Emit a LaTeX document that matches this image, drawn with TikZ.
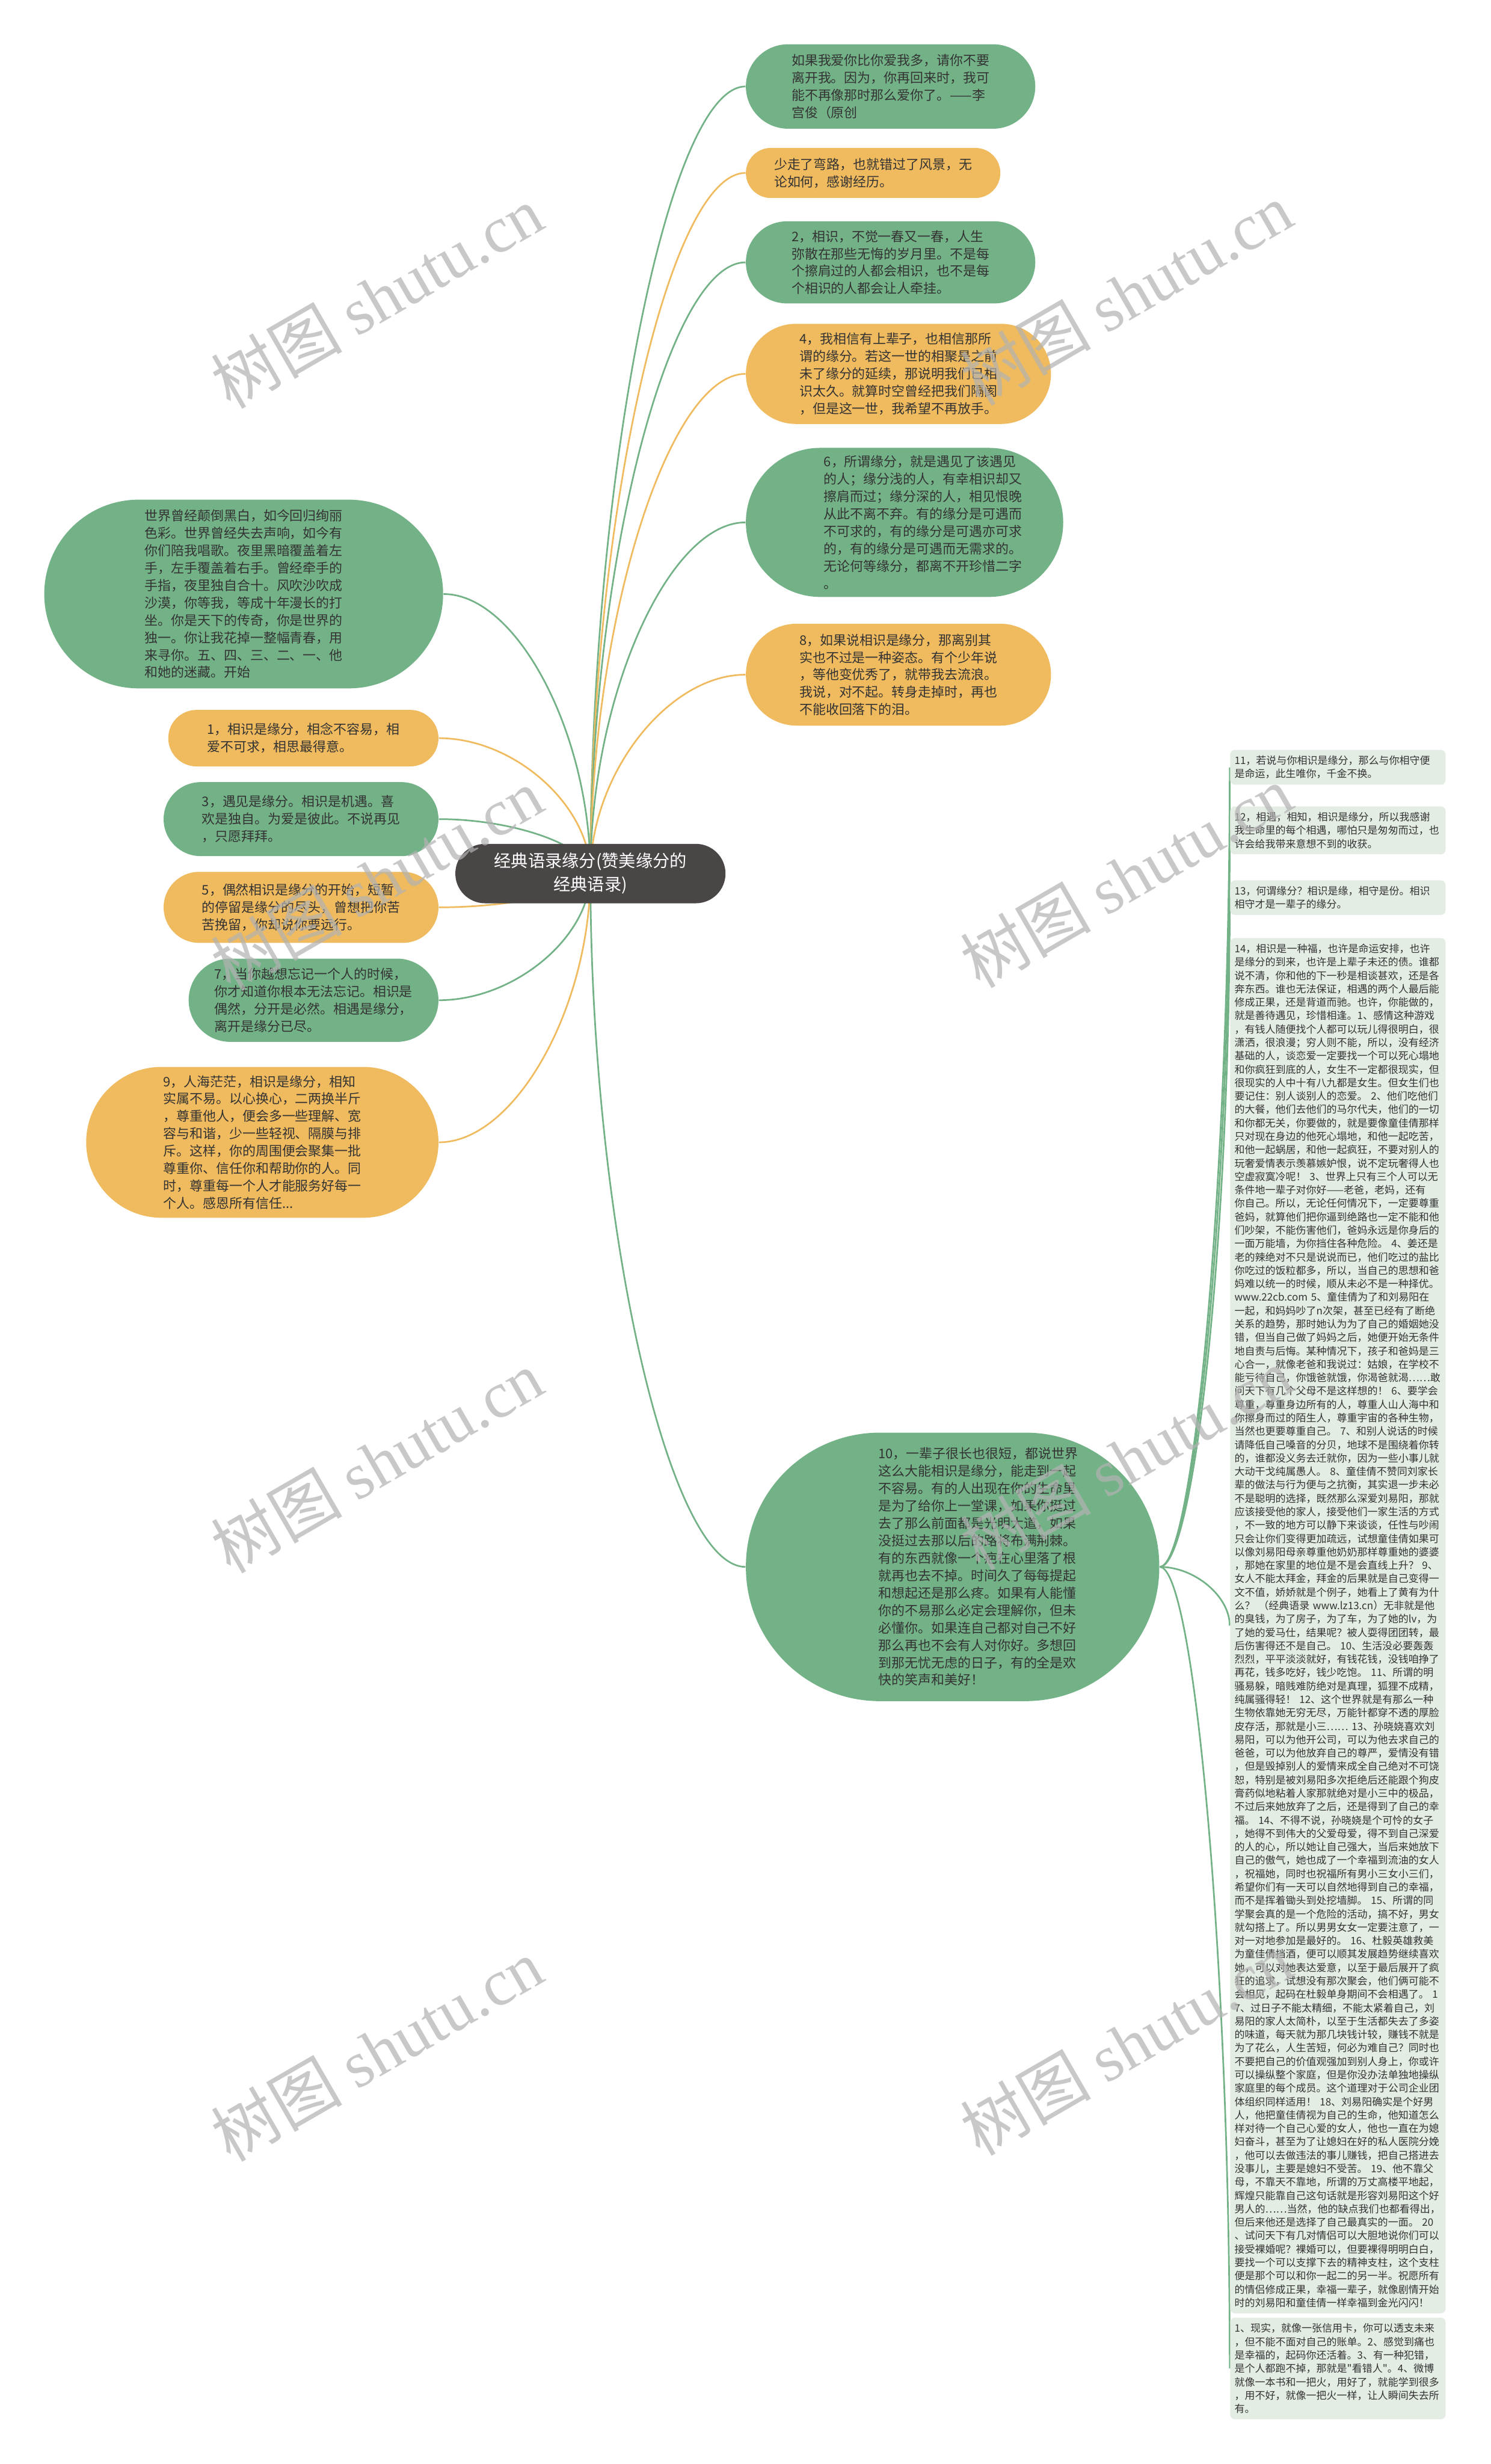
\documentclass[tikz,border=0pt]{standalone}
\usepackage{fontspec}
\newfontfamily\cjk{Noto Sans CJK SC}
\newfontfamily\wmserif{Liberation Serif}
\usetikzlibrary{calc,backgrounds}
\definecolor{mapgreen}{HTML}{73B287}
\definecolor{maporange}{HTML}{F0BA5E}
\definecolor{rootgray}{HTML}{4A4646}
\definecolor{leafbg}{HTML}{E4EDE4}
\definecolor{ink}{HTML}{333333}

\begin{document}
\begin{tikzpicture}[
    pill/.style={inner sep=0pt, align=left, text=ink, font=\cjk\fontsize{6.45pt}{8.5pt}\selectfont},
    gpill/.style={pill, fill=mapgreen},
    opill/.style={pill, fill=maporange},
    rootbox/.style={fill=rootgray, rounded corners=0.51cm, minimum width=4.64cm, minimum height=1.02cm, align=center, text=white, font=\cjk\fontsize{8.3pt}{11.5pt}\selectfont},
    leaf/.style={fill=leafbg, rounded corners=0.08cm, anchor=north west, text width=3.55cm, inner xsep=0.075cm, inner ysep=0.1cm, align=left, text=ink, font=\cjk\fontsize{5pt}{6.55pt}\selectfont},
    glink/.style={draw=mapgreen, line width=0.8pt},
    olink/.style={draw=maporange, line width=0.8pt},
    vlink/.style={to path={.. controls ($(\tikztostart)!0.5!(\tikztostart|-\tikztotarget)$) and ($(\tikztostart|-\tikztotarget)!0.5!(\tikztotarget)$) .. (\tikztotarget)}},
    hlink/.style={to path={.. controls ($(\tikztostart)!0.5!(\tikztostart-|\tikztotarget)$) and ($(\tikztostart-|\tikztotarget)!0.5!(\tikztotarget)$) .. (\tikztotarget)}},
    wmark/.style={rotate=30, text=black!30, opacity=0.7, font=\cjk\fontsize{32pt}{32pt}\selectfont}
]
\useasboundingbox (0,0) rectangle (25.6,-42.31);

% centre
\node[rootbox] (root) at (10.14,-15.00) {经典语录缘分(赞美缘分的\\经典语录)};

% right branches
\node[gpill, minimum width=4.97cm, minimum height=1.45cm, rounded corners=0.725cm] (r1) at (15.295,-1.485)
  {如果我爱你比你爱我多，请你不要\\离开我。因为，你再回来时，我可\\能不再像那时那么爱你了。——李\\宫俊（原创};
\node[opill, minimum width=4.37cm, minimum height=0.86cm, rounded corners=0.43cm] (r2) at (14.995,-2.97)
  {少走了弯路，也就错过了风景，无\\论如何，感谢经历。};
\node[gpill, minimum width=4.97cm, minimum height=1.41cm, rounded corners=0.705cm] (r3) at (15.295,-4.505)
  {2，相识，不觉一春又一春，人生\\弥散在那些无悔的岁月里。不是每\\个擦肩过的人都会相识，也不是每\\个相识的人都会让人牵挂。};
\node[opill, minimum width=5.24cm, minimum height=1.72cm, rounded corners=0.86cm] (r4) at (15.43,-6.42)
  {4，我相信有上辈子，也相信那所\\谓的缘分。若这一世的相聚是之前\\未了缘分的延续，那说明我们已相\\识太久。就算时空曾经把我们隔阂\\，但是这一世，我希望不再放手。};
\node[gpill, minimum width=5.45cm, minimum height=2.56cm, rounded corners=1.28cm] (r5) at (15.535,-8.97) {};
\node[pill] (r5txt) at (15.85,-8.97)
  {6，所谓缘分，就是遇见了该遇见\\的人；缘分浅的人，有幸相识却又\\擦肩而过；缘分深的人，相见恨晚\\从此不离不弃。有的缘分是可遇而\\不可求的，有的缘分是可遇亦可求\\的，有的缘分是可遇而无需求的。\\无论何等缘分，都离不开珍惜二字\\。};
\node[opill, minimum width=5.24cm, minimum height=1.75cm, rounded corners=0.875cm] (r6) at (15.43,-11.585)
  {8，如果说相识是缘分，那离别其\\实也不过是一种姿态。有个少年说\\，等他变优秀了，就带我去流浪。\\我说，对不起。转身走掉时，再也\\不能收回落下的泪。};
\node[gpill, minimum width=7.10cm, minimum height=4.61cm, rounded corners=2.3cm] (r7) at (16.36,-26.905) {};
\node[pill] (r7txt) at (16.80,-26.905)
  {10，一辈子很长也很短，都说世界\\这么大能相识是缘分，能走到一起\\不容易。有的人出现在你的生命里\\是为了给你上一堂课，如果你挺过\\去了那么前面都是光明大道，如果\\没挺过去那以后的路将布满荆棘。\\有的东西就像一个疤在心里落了根\\就再也去不掉。时间久了每每提起\\和想起还是那么疼。如果有人能懂\\你的不易那么必定会理解你，但未\\必懂你。如果连自己都对自己不好\\那么再也不会有人对你好。多想回\\到那无忧无虑的日子，有的全是欢\\快的笑声和美好！};

% left branches
\node[gpill, minimum width=6.85cm, minimum height=3.24cm, rounded corners=1.62cm] (l0) at (4.185,-10.20)
  {世界曾经颠倒黑白，如今回归绚丽\\色彩。世界曾经失去声响，如今有\\你们陪我唱歌。夜里黑暗覆盖着左\\手，左手覆盖着右手。曾经牵手的\\手指，夜里独自合十。风吹沙吹成\\沙漠，你等我，等成十年漫长的打\\坐。你是天下的传奇，你是世界的\\独一。你让我花掉一整幅青春，用\\来寻你。五、四、三、二、一、他\\和她的迷藏。开始};
\node[opill, minimum width=4.64cm, minimum height=0.97cm, rounded corners=0.485cm] (l1) at (5.21,-12.675)
  {1，相识是缘分，相念不容易，相\\爱不可求，相思最得意。};
\node[gpill, minimum width=4.72cm, minimum height=1.27cm, rounded corners=0.635cm] (l2) at (5.17,-14.065)
  {3，遇见是缘分。相识是机遇。喜\\欢是独自。为爱是彼此。不说再见\\，只愿拜拜。};
\node[opill, minimum width=4.72cm, minimum height=1.22cm, rounded corners=0.61cm] (l3) at (5.17,-15.58)
  {5，偶然相识是缘分的开始，短暂\\的停留是缘分的尽头，曾想把你苦\\苦挽留，你却说你要远行。};
\node[gpill, minimum width=4.29cm, minimum height=1.43cm, rounded corners=0.715cm] (l4) at (5.385,-17.175)
  {7，当你越想忘记一个人的时候，\\你才知道你根本无法忘记。相识是\\偶然，分开是必然。相遇是缘分，\\离开是缘分已尽。};
\node[opill, minimum width=6.05cm, minimum height=2.59cm, rounded corners=1.295cm] (l5) at (4.505,-19.615)
  {9，人海茫茫，相识是缘分，相知\\实属不易。以心换心，二两换半斤\\，尊重他人，便会多一些理解、宽\\容与和谐，少一些轻视、隔膜与排\\斥。这样，你的周围便会聚集一批\\尊重你、信任你和帮助你的人。同\\时，尊重每一个人才能服务好每一\\个人。感恩所有信任...};

% leaves of node 10
\node[leaf] (f1) at (21.12,-12.87)
  {11，若说与你相识是缘分，那么与你相守便\\是命运，此生唯你，千金不换。};
\node[leaf] (f2) at (21.12,-13.84)
  {12，相遇，相知，相识是缘分，所以我感谢\\我生命里的每个相遇，哪怕只是匆匆而过，也\\许会给我带来意想不到的收获。};
\node[leaf] (f3) at (21.12,-15.11)
  {13，何谓缘分？相识是缘，相守是份。相识\\相守才是一辈子的缘分。};
\node[leaf] (f4) at (21.12,-16.10)
  {14，相识是一种福，也许是命运安排，也许\\是缘分的到来，也许是上辈子未还的债。谁都\\说不清，你和他的下一秒是相谈甚欢，还是各\\奔东西。谁也无法保证，相遇的两个人最后能\\修成正果，还是背道而驰。也许，你能做的，\\就是善待遇见，珍惜相逢。1、感情这种游戏\\，有钱人随便找个人都可以玩儿得很明白，很\\潇洒，很浪漫；穷人则不能，所以，没有经济\\基础的人，谈恋爱一定要找一个可以死心塌地\\和你疯狂到底的人，女生不一定都很现实，但\\很现实的人中十有八九都是女生。但女生们也\\要记住：别人谈别人的恋爱。 2、他们吃他们\\的大餐，他们去他们的马尔代夫，他们的一切\\和你都无关，你要做的，就是要像童佳倩那样\\只对现在身边的他死心塌地，和他一起吃苦，\\和他一起蜗居，和他一起疯狂，不要对别人的\\玩奢爱情表示羡慕嫉妒恨，说不定玩奢得人也\\空虚寂寞冷呢！ 3、世界上只有三个人可以无\\条件地一辈子对你好——老爸，老妈，还有\\你自己。所以，无论任何情况下，一定要尊重\\爸妈，就算他们把你逼到绝路也一定不能和他\\们吵架，不能伤害他们，爸妈永远是你身后的\\一面万能墙，为你挡住各种危险。 4、姜还是\\老的辣绝对不只是说说而已，他们吃过的盐比\\你吃过的饭粒都多，所以，当自己的思想和爸\\妈难以统一的时候，顺从未必不是一种择优。\\www.22cb.com 5、童佳倩为了和刘易阳在\\一起，和妈妈吵了n次架，甚至已经有了断绝\\关系的趋势，那时她认为为了自己的婚姻她没\\错，但当自己做了妈妈之后，她便开始无条件\\地自责与后悔。某种情况下，孩子和爸妈是三\\心合一，就像老爸和我说过：姑娘，在学校不\\能亏待自己，你饿爸就饿，你渴爸就渴……敢\\问天下有几个父母不是这样想的！ 6、要学会\\尊重，尊重身边所有的人，尊重人山人海中和\\你擦身而过的陌生人，尊重宇宙的各种生物，\\当然也更要尊重自己。 7、和别人说话的时候\\请降低自己嗓音的分贝，地球不是围绕着你转\\的，谁都没义务去迁就你，因为一些小事儿就\\大动干戈纯属愚人。 8、童佳倩不赞同刘家长\\辈的做法与行为便与之抗衡，其实退一步未必\\不是聪明的选择，既然那么深爱刘易阳，那就\\应该接受他的家人，接受他们一家生活的方式\\，不一致的地方可以静下来谈谈，任性与吵闹\\只会让你们变得更加疏远，试想童佳倩如果可\\以像刘易阳母亲尊重他奶奶那样尊重她的婆婆\\，那她在家里的地位是不是会直线上升？ 9、\\女人不能太拜金，拜金的后果就是自己变得一\\文不值，娇娇就是个例子，她看上了黄有为什\\么？ （经典语录 www.lz13.cn）无非就是他\\的臭钱，为了房子，为了车，为了她的lv，为\\了她的爱马仕，结果呢？被人耍得团团转，最\\后伤害得还不是自己。 10、生活没必要轰轰\\烈烈，平平淡淡就好，有钱花钱，没钱咱挣了\\再花，钱多吃好，钱少吃饱。 11、所谓的明\\骚易躲，暗贱难防绝对是真理，狐狸不成精，\\纯属骚得轻！ 12、这个世界就是有那么一种\\生物依靠她无穷无尽，万能针都穿不透的厚脸\\皮存活，那就是小三…… 13、孙晓娆喜欢刘\\易阳，可以为他开公司，可以为他去求自己的\\爸爸，可以为他放弃自己的尊严，爱情没有错\\，但是毁掉别人的爱情来成全自己绝对不可饶\\恕，特别是被刘易阳多次拒绝后还能跟个狗皮\\膏药似地粘着人家那就绝对是小三中的极品，\\不过后来她放弃了之后，还是得到了自己的幸\\福。 14、不得不说，孙晓娆是个可怜的女子\\，她得不到伟大的父爱母爱，得不到自己深爱\\的人的心，所以她让自己强大，当后来她放下\\自己的傲气，她也成了一个幸福到流油的女人\\，祝福她，同时也祝福所有男小三女小三们，\\希望你们有一天可以自然地得到自己的幸福，\\而不是挥着锄头到处挖墙脚。 15、所谓的同\\学聚会真的是一个危险的活动，搞不好，男女\\就勾搭上了。所以男男女女一定要注意了，一\\对一对地参加是最好的。 16、杜毅英雄救美\\为童佳倩挡酒，便可以顺其发展趋势继续喜欢\\她，可以对她表达爱意，以至于最后展开了疯\\狂的追求，试想没有那次聚会，他们俩可能不\\会相见，起码在杜毅单身期间不会相遇了。 1\\7、过日子不能太精细，不能太紧着自己，刘\\易阳的家人太简朴，以至于生活都失去了多姿\\的味道，每天就为那几块钱计较，赚钱不就是\\为了花么，人生苦短，何必为难自己？同时也\\不要把自己的价值观强加到别人身上，你或许\\可以操纵整个家庭，但是你没办法单独地操纵\\家庭里的每个成员。这个道理对于公司企业团\\体组织同样适用！ 18、刘易阳确实是个好男\\人，他把童佳倩视为自己的生命，他知道怎么\\样对待一个自己心爱的女人，他也一直在为媳\\妇奋斗，甚至为了让媳妇在好的私人医院分娩\\，他可以去做违法的事儿赚钱，把自己搭进去\\没事儿，主要是媳妇不受苦。 19、他不靠父\\母，不靠天不靠地，所谓的万丈高楼平地起，\\辉煌只能靠自己这句话就是形容刘易阳这个好\\男人的……当然，他的缺点我们也都看得出，\\但后来他还是选择了自己最真实的一面。 20\\、试问天下有几对情侣可以大胆地说你们可以\\接受裸婚呢？裸婚可以，但要裸得明明白白，\\要找一个可以支撑下去的精神支柱，这个支柱\\便是那个可以和你一起二的另一半。祝愿所有\\的情侣修成正果，幸福一辈子，就像剧情开始\\时的刘易阳和童佳倩一样幸福到金光闪闪！};
\node[leaf] (f5) at (21.12,-39.79)
  {1、现实，就像一张信用卡，你可以透支未来\\，但不能不面对自己的账单。2、感觉到痛也\\是幸福的，起码你还活着。3、有一种犯错，\\是个人都跑不掉，那就是"看错人"。4、微博\\就像一本书和一把火，用好了，就能学到很多\\，用不好，就像一把火一样，让人瞬间失去所\\有。};

% connectors
\begin{scope}[on background layer]
\fill[white] (0,0) rectangle (25.6,-42.31);
\draw[glink] (root.center) to[vlink] (r1.west);
\draw[olink] (root.center) to[vlink] (r2.west);
\draw[glink] (root.center) to[vlink] (r3.west);
\draw[olink] (root.center) to[vlink] (r4.west);
\draw[glink] (root.center) to[vlink] (r5.west);
\draw[olink] (root.center) to[vlink] (r6.west);
\draw[glink] (root.center) to[vlink] (r7.west);
\draw[glink] (root.center) to[vlink] (l0.east);
\draw[olink] (root.center) to[vlink] (l1.east);
\draw[glink] (root.center) to[vlink] (l2.east);
\draw[olink] (root.center) to[vlink] (l3.east);
\draw[glink] (root.center) to[vlink] (l4.east);
\draw[olink] (root.center) to[vlink] (l5.east);
\foreach \leafname in {f1,f2,f3,f4,f5}
  \draw[glink] (r7.east) to[hlink] (\leafname.west);
\end{scope}

% watermark
\node[wmark] (wm1) at (6.47,-5.10) {树图 {\wmserif shutu.cn}};
\node[wmark] (wm2) at (19.34,-5.05) {树图 {\wmserif shutu.cn}};
\node[wmark] (wm3) at (6.47,-15.10) {树图 {\wmserif shutu.cn}};
\node[wmark] (wm4) at (19.34,-15.05) {树图 {\wmserif shutu.cn}};
\node[wmark] (wm5) at (6.47,-25.10) {树图 {\wmserif shutu.cn}};
\node[wmark] (wm6) at (19.34,-25.05) {树图 {\wmserif shutu.cn}};
\node[wmark] (wm7) at (6.47,-35.20) {树图 {\wmserif shutu.cn}};
\node[wmark] (wm8) at (19.34,-35.10) {树图 {\wmserif shutu.cn}};
\end{tikzpicture}
\end{document}
